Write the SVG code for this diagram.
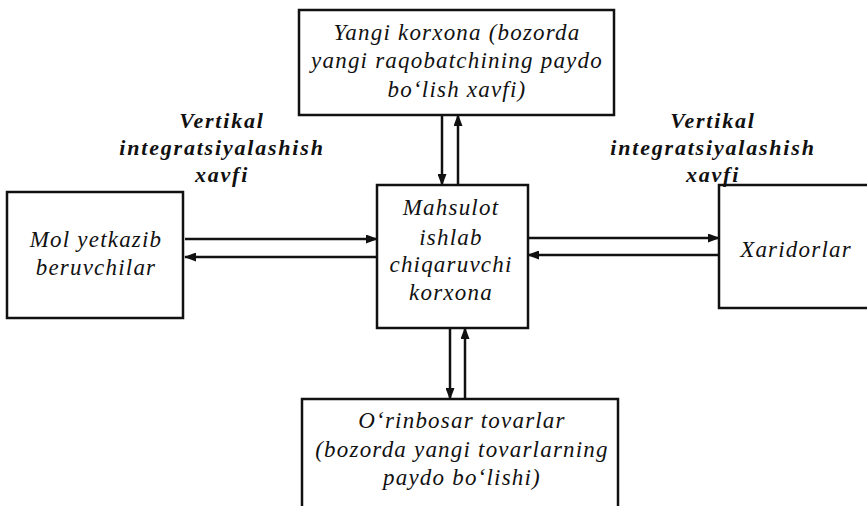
<svg xmlns="http://www.w3.org/2000/svg" width="867" height="506" viewBox="0 0 867 506">
<defs>
<marker id="ah" markerWidth="12" markerHeight="9" refX="11" refY="4.5" orient="auto" markerUnits="userSpaceOnUse">
<path d="M0,0 L12,4.5 L0,9 Z" fill="#111"/>
</marker>
</defs>
<style>
.box{fill:#fff;stroke:#111;stroke-width:2.5}
.t{font-family:"Liberation Serif","Times New Roman",serif;font-style:italic;font-size:23px;fill:#111;text-anchor:middle;letter-spacing:1.2px}
.b{font-family:"Liberation Serif","Times New Roman",serif;font-style:italic;font-weight:bold;font-size:22px;fill:#111;text-anchor:middle;letter-spacing:1.8px}
.c{stroke:#111;stroke-width:2.5;fill:none;marker-end:url(#ah)}
</style>
<rect width="867" height="506" fill="#fff"/>
<g id="node-top">
<rect class="box" x="299" y="10" width="315" height="105"/>
<text class="t" x="457" y="40">Yangi  korxona  (bozorda</text>
<text class="t" x="457" y="68">yangi  raqobatchining  paydo</text>
<text class="t" x="457" y="97">bo‘lish  xavfi)</text>
</g>
<g id="node-center">
<rect class="box" x="377" y="185" width="151" height="143"/>
<text class="t" x="451" y="215">Mahsulot</text>
<text class="t" x="451" y="245">ishlab</text>
<text class="t" x="451" y="272">chiqaruvchi</text>
<text class="t" x="451" y="300">korxona</text>
</g>
<g id="node-left">
<rect class="box" x="7" y="192" width="176" height="126"/>
<text class="t" x="96" y="247">Mol yetkazib</text>
<text class="t" x="96" y="275">beruvchilar</text>
</g>
<g id="node-right">
<rect class="box" x="719" y="185" width="170" height="123"/>
<text class="t" x="796" y="257">Xaridorlar</text>
</g>
<g id="node-bottom">
<rect class="box" x="302" y="399" width="316" height="130"/>
<text class="t" x="462" y="428">O‘rinbosar  tovarlar</text>
<text class="t" x="462" y="457">(bozorda  yangi  tovarlarning</text>
<text class="t" x="462" y="485">paydo  bo‘lishi)</text>
</g>
<g id="label-left">
<text class="b" x="222" y="128">Vertikal</text>
<text class="b" x="222" y="155">integratsiyalashish</text>
<text class="b" x="222" y="182">xavfi</text>
</g>
<g id="label-right">
<text class="b" x="713" y="128">Vertikal</text>
<text class="b" x="713" y="155">integratsiyalashish</text>
<text class="b" x="713" y="182">xavfi</text>
</g>
<g id="connectors">
<line class="c" x1="185" y1="239" x2="377" y2="239"/>
<line class="c" x1="377" y1="257" x2="185" y2="257"/>
<line class="c" x1="528" y1="238" x2="719" y2="238"/>
<line class="c" x1="719" y1="255" x2="528" y2="255"/>
<line class="c" x1="442" y1="115" x2="442" y2="185"/>
<line class="c" x1="458" y1="185" x2="458" y2="115"/>
<line class="c" x1="450" y1="328" x2="450" y2="399"/>
<line class="c" x1="465" y1="399" x2="465" y2="328"/>
</g>
</svg>
